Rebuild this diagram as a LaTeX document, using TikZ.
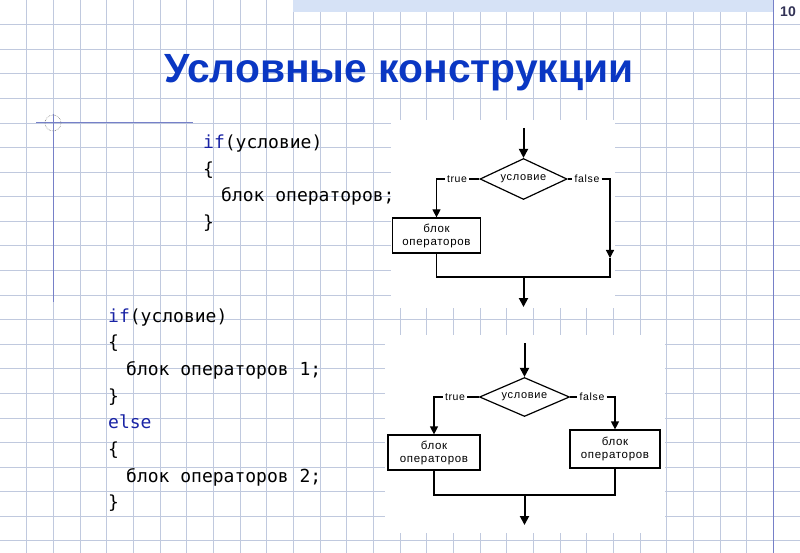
\documentclass[tikz,border=0pt]{standalone}
\usepackage{fontspec}
\setmainfont{Liberation Sans}
\setmonofont{DejaVu Sans Mono}
\newfontfamily\flowfont[LetterSpace=6]{Liberation Sans}
\usetikzlibrary{shapes.geometric,arrows.meta}
\definecolor{gridblue}{RGB}{192,201,222}
\definecolor{titleblue}{RGB}{10,55,195}
\definecolor{keyblue}{RGB}{25,35,165}
\definecolor{bandblue}{RGB}{214,226,246}
\definecolor{rulerblue}{RGB}{118,128,200}
\definecolor{pagenum}{RGB}{50,50,85}
\newcommand{\kw}[1]{\textcolor{keyblue}{#1}}
\newcommand{\ind}{\hspace*{18pt}}
\tikzset{
  gridline/.style={gridblue, line width=0.7pt},
  codeline/.style={anchor=base west, inner sep=0pt, font=\ttfamily\fontsize{18}{18}\selectfont},
  cond/.style={diamond, aspect=2.3, draw, line width=1.2pt, inner sep=0pt, minimum width=87pt, minimum height=41pt, font=\flowfont\fontsize{11}{12}\selectfont},
  blockbox/.style={draw, line width=1.2pt, minimum width=88pt, minimum height=35pt, inner sep=1pt, align=center, font=\flowfont\fontsize{11.5}{13}\selectfont},
  branch/.style={inner sep=2pt, font=\flowfont\fontsize{10.5}{12}\selectfont},
  plain/.style={line width=1.2pt},
  flow/.style={line width=1.2pt, -{Triangle[length=8pt,width=8pt]}},
  mainflow/.style={line width=2pt, -{Triangle[length=9pt,width=9pt]}}
}
\begin{document}
\begin{tikzpicture}[x=1pt,y=-1pt,line join=miter]
\useasboundingbox (0,0) rectangle (800,553);
\fill[white] (0,0) rectangle (800,553);
% squared paper
\foreach \k in {1,...,29} \draw[gridline] (\k*26.667,0) -- (\k*26.667,553);
\foreach \k in {1,...,22} \draw[gridline] (0,\k*24.58) -- (800,\k*24.58);
\fill[bandblue] (293,0) rectangle (773,12);
\draw[rulerblue, line width=1pt] (773,0) -- (773,553);
\node[anchor=base east, inner sep=0pt, font=\bfseries\fontsize{14}{14}\selectfont, text=pagenum] (num) at (796,17) {10};
% corner mark
\draw[rulerblue, line width=1pt] (36,123) -- (193,123);
\draw[rulerblue, line width=1pt] (53,114) -- (53,302);
\draw[gray, densely dotted, line width=0.6pt] (53,123) circle (8);
% title
\node[anchor=base, inner sep=0pt, font=\bfseries\fontsize{40.8}{40.8}\selectfont, text=titleblue] (title) at (399,83) {Условные конструкции};
% code
\foreach \t/\y [count=\i] in {{\kw{if}(условие)}/149, \{/175.5, {\ind блок операторов;}/202, \}/228.5}
  \node[codeline] (ca\i) at (203,\y) {\t};
\foreach \t/\y [count=\i] in {{\kw{if}(условие)}/322, \{/348.7, {\ind блок операторов 1;}/375.4, \}/402, {\kw{else}}/428.8, \{/455.5, {\ind блок операторов 2;}/482, \}/508.7}
  \node[codeline] (cb\i) at (108,\y) {\t};
% flowchart: if
\fill[white] (391,120) rectangle (615,308);
\node[cond] (cond1) at (523.5,179) {условие};
\node[blockbox] (blk1) at (436.5,235.5) {блок\\операторов};
\node[branch] (t1) at (457,179) {true};
\node[branch] (f1) at (587,179) {false};
\coordinate (in1) at (523.5,128);
\coordinate (fa1) at (610,258);
\coordinate (fb1) at (610,277);
\coordinate (out1) at (523.5,307);
\draw[mainflow] (in1) -- (cond1.north);
\draw[plain] (cond1.west) -- (t1.east);
\draw[flow] (t1.west) -| (blk1.north);
\draw[plain] (cond1.east) -- (f1.west);
\draw[flow] (f1.east) -| (fa1);
\draw[plain] (fa1) -- (fb1) -- (blk1.south |- fb1) -- (blk1.south);
\draw[mainflow] (cond1.south |- fb1) -- (out1);
% flowchart: if-else
\fill[white] (385,335) rectangle (665,533);
\node[cond, minimum width=90pt, minimum height=39pt] (cond2) at (524.5,397) {условие};
\node[blockbox, minimum width=92pt] (blk2) at (434,452.5) {блок\\операторов};
\node[blockbox, minimum width=90pt, minimum height=38pt] (blk3) at (615,449) {блок\\операторов};
\node[branch] (t2) at (455,397) {true};
\node[branch] (f2) at (592,397) {false};
\coordinate (in2) at (524.5,343);
\coordinate (j2) at (524.5,495);
\coordinate (out2) at (524.5,525);
\draw[mainflow] (in2) -- (cond2.north);
\draw[plain] (cond2.west) -- (t2.east);
\draw[flow] (t2.west) -| (blk2.north);
\draw[plain] (cond2.east) -- (f2.west);
\draw[flow] (f2.east) -| (blk3.north);
\draw[plain] (blk2.south) |- (j2) -| (blk3.south);
\draw[mainflow] (j2) -- (out2);
\end{tikzpicture}
\end{document}
